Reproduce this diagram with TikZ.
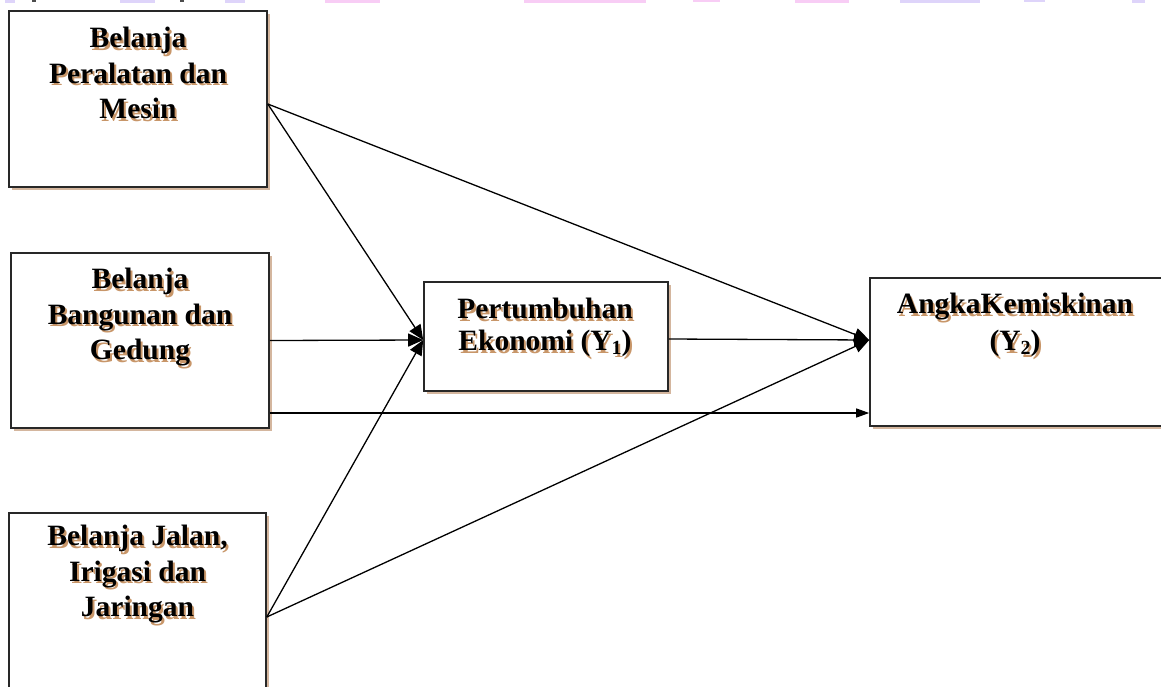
\documentclass[tikz,border=0pt]{standalone}
\usepackage{fontspec}
\setmainfont{Liberation Serif}
\usetikzlibrary{arrows.meta,shadows}
\definecolor{shc}{RGB}{200,150,105}
\definecolor{boxshc}{RGB}{212,182,158}
\definecolor{boxline}{RGB}{40,40,40}
\definecolor{hlpink}{RGB}{248,205,245}
\definecolor{hllav}{RGB}{222,212,250}
\newcommand\shd[1]{\leavevmode\rlap{\kern2pt\raisebox{-2.6pt}{\textcolor{shc}{#1}}}#1}
\newcommand\subn[1]{\raisebox{-4pt}{\fontsize{20}{20}\selectfont #1}}
\begin{document}
\begin{tikzpicture}[x=1pt,y=-1pt,
  box/.style={draw=boxline, line width=1.6pt, fill=white, inner sep=0pt,
    drop shadow={fill=boxshc, shadow xshift=3pt, shadow yshift=-3pt, opacity=1}},
  lbl/.style={anchor=north, align=center, inner sep=0pt,
    font=\fontsize{29.5}{35.5}\selectfont\bfseries},
  conn/.style={line width=1.3pt, -{Triangle[length=15pt,width=13pt]}},
  connsmall/.style={line width=1.3pt, -{Triangle[length=13pt,width=9pt]}}
]
\useasboundingbox (0,0) rectangle (1161,686);
\clip (0,0) rectangle (1161,686);

% cut-off remnants of a line above the figure
\fill[hllav] (5,0) rectangle (15,2.5);
\fill[black!70] (32,0) rectangle (36,2);
\fill[hllav] (120,0) rectangle (155,3);
\fill[black!70] (180,0) rectangle (184,2);
\fill[hllav] (225,0) rectangle (245,2.5);
\fill[hlpink] (325,0) rectangle (380,3);
\fill[hlpink] (524,0) rectangle (646,2.5);
\fill[hlpink] (693,0) rectangle (720,2);
\fill[hlpink] (795,0) rectangle (849,2.5);
\fill[hllav] (900,0) rectangle (980,2.5);
\fill[hllav] (1024,0) rectangle (1045,2);
\fill[hllav] (1132,0) rectangle (1145,2.5);

% boxes
\node[box, minimum width=258pt, minimum height=176pt] (b1) at (138,99) {};
\node[box, minimum width=258pt, minimum height=175pt] (b2) at (140,340.5) {};
\node[box, minimum width=257pt, minimum height=287pt] (b3) at (137.5,656.5) {};
\node[box, minimum width=244pt, minimum height=109pt] (y1) at (546,336.5) {};
\node[box, minimum width=292pt, minimum height=148pt] (y2) at (1016,352) {};

% texts
\node[lbl] (t1) at (138,27) {\shd{Belanja}\\\shd{Peralatan dan}\\\shd{Mesin}};
\node[lbl] (t2) at (140,268) {\shd{Belanja}\\\shd{Bangunan dan}\\\shd{Gedung}};
\node[lbl] (t3) at (137.5,525) {\shd{Belanja Jalan,}\\\shd{Irigasi dan}\\\shd{Jaringan}};
\node[lbl, font=\fontsize{29.5}{32}\selectfont\bfseries] (ty1) at (545,298)
  {\shd{Pertumbuhan}\\\shd{Ekonomi (Y\subn{1})}};
\node[lbl, font=\fontsize{29.5}{37}\selectfont\bfseries] (ty2) at (1015,293)
  {\shd{AngkaKemiskinan}\\\shd{(Y\subn{2})}};

% connectors
\draw[conn] ([yshift=-5pt]b1.east) -- ([yshift=-3.5pt]y1.west);
\draw[conn] ([yshift=-5pt]b1.east) -- ([yshift=12pt]y2.west);
\draw[conn] (b2.east) -- ([yshift=-3.5pt]y1.west);
\draw[connsmall] ([yshift=-72.5pt]b2.east) -- ([yshift=-61pt]y2.west);
\draw[conn] ([yshift=39.5pt]b3.east) -- ([yshift=-3.5pt]y1.west);
\draw[conn] ([yshift=39.5pt]b3.east) -- ([yshift=12pt]y2.west);
\draw[conn] ([yshift=-2.5pt]y1.east) -- ([yshift=12pt]y2.west);
\end{tikzpicture}
\end{document}
